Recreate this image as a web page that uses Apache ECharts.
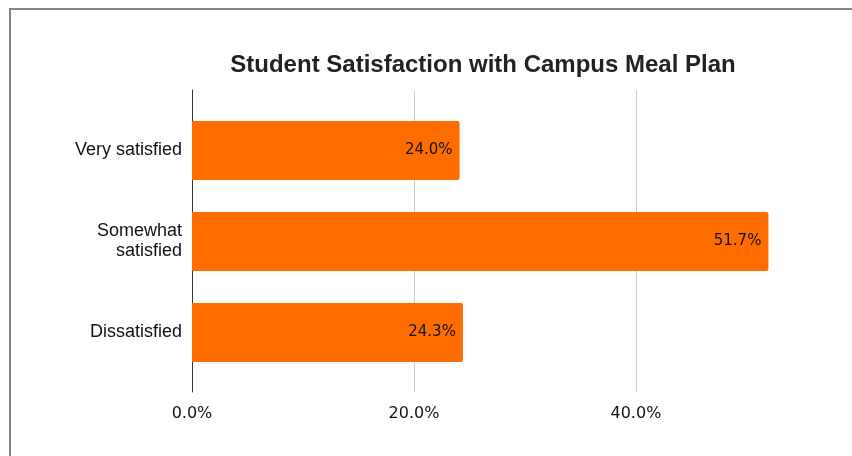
<!DOCTYPE html>
<html>
<head>
<meta charset="utf-8">
<style>
  html, body { margin: 0; padding: 0; background: #fff; }
  #chart { width: 852px; height: 456px; }
</style>
<script src="https://cdn.jsdelivr.net/npm/echarts@6/dist/echarts.min.js"></script>
</head>
<body>
<div id="chart"></div>
<script>
// categories, top to bottom
const categories = ['Very satisfied', 'Somewhat\nsatisfied', 'Dissatisfied']
// share of students per answer
const shares = [0.240, 0.517, 0.243]
// x axis ticks
const tickValues = [0, 0.2, 0.4]

const pct = (v) => (v * 100).toFixed(1) + '%'

const chart = echarts.init(document.getElementById('chart'))

// the axis runs a bit past the last tick, to the right edge of the page
const xMax = 0.592

const option = {
  animation: false,
  title: {
    text: 'Student Satisfaction with Campus Meal Plan',
    left: 478,
    top: 48,
    textAlign: 'center',
    textStyle: {
      fontFamily: 'Liberation Sans',
      fontWeight: 'bold',
      fontSize: 24,
      color: '#222'
    }
  },
  graphic: [
    {
      type: 'rect',
      shape: { x: 10, y: 9, width: 900, height: 500 },
      style: { fill: 'none', stroke: '#858585', lineWidth: 2 },
      silent: true
    }
  ],
  // grid 0 carries the frame of the plot (axis line, grid lines, tick labels)
  // grid 1 carries the bars, inset a bit from the top and bottom
  grid: [
    { left: 192, right: 0, top: 90, bottom: 64 },
    { left: 192, right: 0, top: 105, bottom: 78 }
  ],
  xAxis: [
    {
      gridIndex: 0,
      type: 'value',
      min: 0,
      max: xMax,
      interval: 0.2,
      axisLine: { show: false },
      axisTick: { show: false },
      splitLine: { showMaxLine: false, lineStyle: { color: '#cccccc', width: 1 } },
      axisLabel: {
        margin: 14,
        fontFamily: 'DejaVu Sans',
        fontSize: 16,
        color: '#111',
        formatter: (v) => (tickValues.some((t) => Math.abs(t - v) < 1e-9) ? pct(v) : '')
      }
    },
    {
      gridIndex: 1,
      type: 'value',
      min: 0,
      max: xMax,
      show: false
    }
  ],
  yAxis: [
    {
      gridIndex: 0,
      type: 'value',
      axisLine: { show: true, onZero: false, lineStyle: { color: '#333', width: 1 } },
      axisTick: { show: false },
      axisLabel: { show: false },
      splitLine: { show: false }
    },
    {
      gridIndex: 1,
      type: 'category',
      inverse: true,
      data: categories,
      axisLine: { show: false },
      axisTick: { show: false },
      axisLabel: {
        margin: 10,
        fontFamily: 'Liberation Sans',
        fontSize: 18,
        lineHeight: 20,
        color: '#111',
        align: 'right'
      }
    }
  ],
  series: [
    {
      type: 'bar',
      xAxisIndex: 1,
      yAxisIndex: 1,
      data: shares,
      barCategoryGap: '35%',
      itemStyle: {
        color: '#ff6d01',
        borderRadius: [0, 2, 2, 0]
      },
      label: {
        show: true,
        position: 'insideRight',
        distance: 7,
        fontFamily: 'DejaVu Sans',
        fontSize: 15,
        color: '#111',
        formatter: (p) => pct(p.value)
      }
    }
  ]
}

chart.setOption(option)
</script>
</body>
</html>
